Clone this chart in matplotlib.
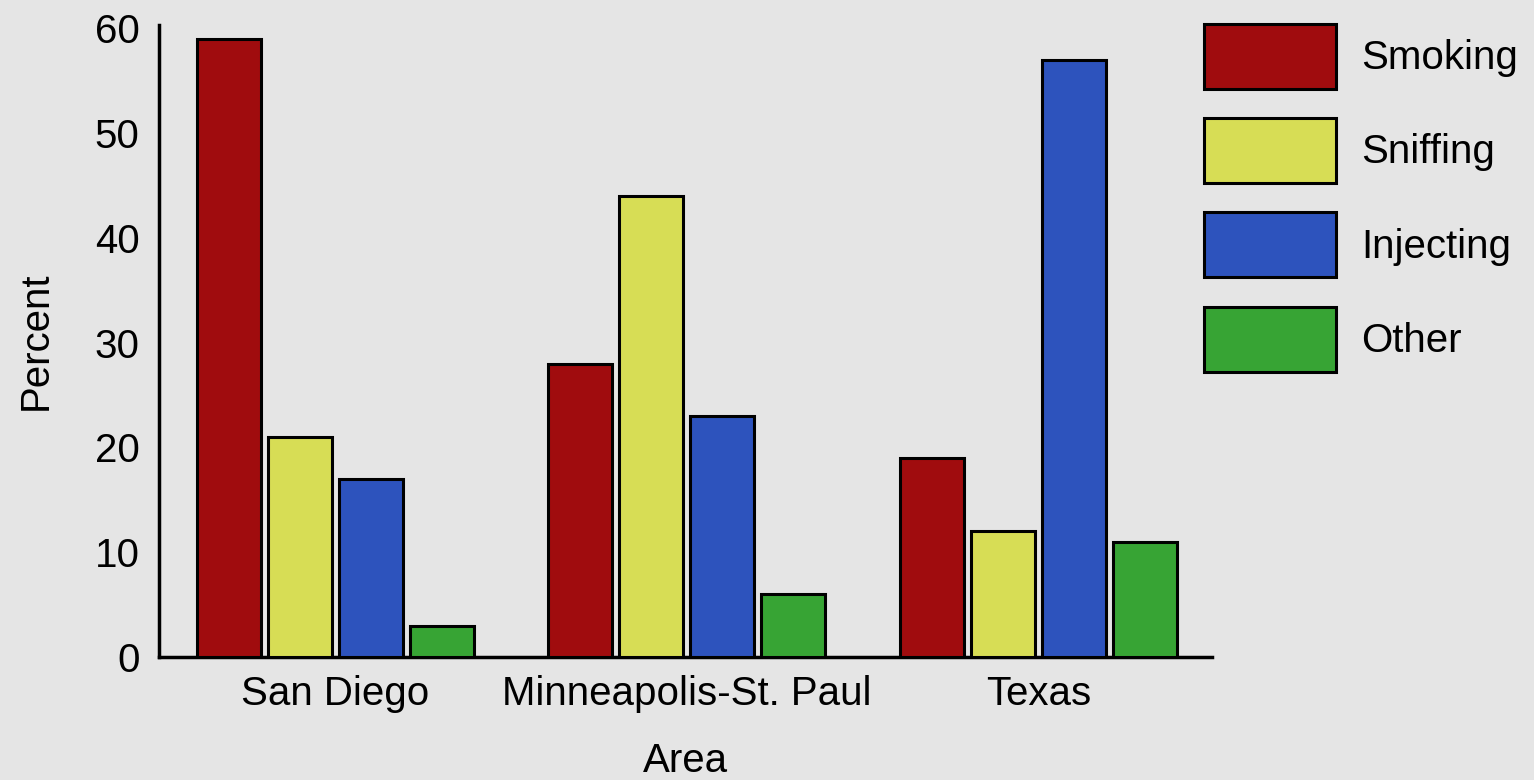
import matplotlib
matplotlib.use("Agg")
import matplotlib.pyplot as plt
import numpy as np

areas = ["San Diego", "Minneapolis-St. Paul", "Texas"]
methods = ["Smoking", "Sniffing", "Injecting", "Other"]
smoking = [59, 28, 19]
sniffing = [21, 44, 12]
injecting = [17, 23, 57]
other = [3, 6, 11]
colors = ["#a00c0e", "#d7dd55", "#2d53bd", "#37a434"]
yticks = [0, 10, 20, 30, 40, 50, 60]

plt.rcParams['font.family'] = ['Liberation Sans', 'DejaVu Sans']
bg = "#e5e5e5"

fig = plt.figure(figsize=(15.34, 7.8), dpi=100, facecolor=bg)
ax = fig.add_axes([159/1534, 1-657/780, (1212-159)/1534, (657-25)/780])
ax.set_facecolor(bg)

group_gap = 0.99
step = 0.2
width = 0.18
series = [smoking, sniffing, injecting, other]
x = np.arange(len(areas)) * group_gap
for j, (vals, c, name) in enumerate(zip(series, colors, methods)):
    ax.bar(x + (j - 1.5) * step, vals, width=width, color=c,
           edgecolor="black", linewidth=2.2, label=name, zorder=3)

ax.set_xlim(-0.497, 2.469)
ax.set_ylim(0, 60.3)
ax.set_yticks(yticks)
ax.set_xticks(x)
ax.set_xticklabels(areas)
fs = 29
ax.tick_params(axis='both', length=0, labelsize=fs, colors='black')
ax.tick_params(axis='y', pad=14)
ax.tick_params(axis='x', pad=13)
for s in ['top', 'right']:
    ax.spines[s].set_visible(False)
for s in ['left', 'bottom']:
    ax.spines[s].set_linewidth(2.5)
    ax.spines[s].set_color('black')

ax.set_ylabel("Percent", fontsize=fs, labelpad=29)
ax.set_xlabel("Area", fontsize=fs, labelpad=21)

leg = ax.legend(loc='upper left', bbox_to_anchor=(1204/1534, 1-24/780),
                bbox_transform=fig.transFigure, frameon=False, fontsize=fs,
                handlelength=3.28, handleheight=2.1, labelspacing=0.73,
                handletextpad=0.62, borderpad=0, borderaxespad=0)

fig.savefig("out.png", dpi=100, facecolor=bg)
